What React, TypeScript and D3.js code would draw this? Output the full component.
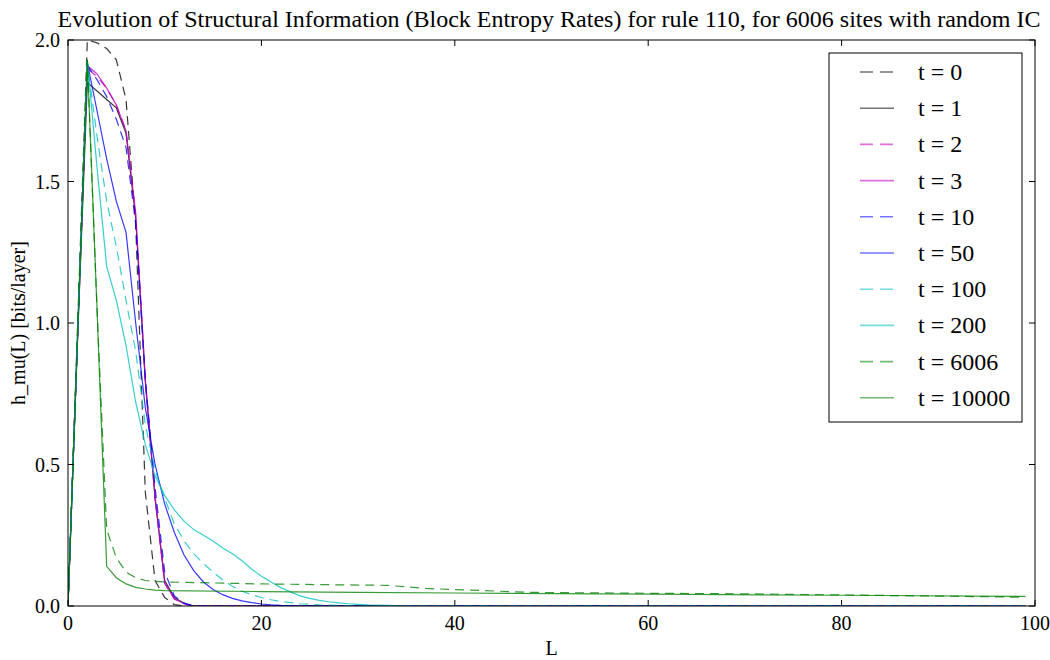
import React from 'react';
import * as d3 from 'd3';

const TITLE = 'Evolution of Structural Information (Block Entropy Rates) for rule 110, for 6006 sites with random IC';
const X_LABEL = 'L';
const Y_LABEL = 'h_mu(L) [bits/layer]';
const X_TICKS = [0, 20, 40, 60, 80, 100];
const Y_TICKS = [0, 0.5, 1.0, 1.5, 2.0];

const SERIES_LABELS = ['t = 0', 't = 1', 't = 2', 't = 3', 't = 10', 't = 50', 't = 100', 't = 200', 't = 6006', 't = 10000'];
const SERIES_COLORS = ['#000000', '#000000', '#bf00bf', '#bf00bf', '#0000ff', '#0000ff', '#00bfbf', '#00bfbf', '#008000', '#008000'];
const SERIES_DASHED = [true, false, true, false, true, false, true, false, true, false];

// values at L = 0, 1, 2, ...
const H_T0 = [0, 1.0, 2.0, 1.99, 1.97, 1.93, 1.79, 1.35, 0.40, 0.09, 0.03, 0.005, 0];
const H_T1 = [0, 0.95, 1.85, 1.82, 1.79, 1.76, 1.67, 1.37, 0.79, 0.38, 0.09, 0.03, 0.01, 0];
const H_T2 = [0, 0.96, 1.90, 1.87, 1.83, 1.77, 1.68, 1.38, 0.80, 0.38, 0.08, 0.025, 0.008, 0];
const H_T3 = [0, 0.96, 1.91, 1.88, 1.83, 1.77, 1.68, 1.39, 0.80, 0.39, 0.08, 0.025, 0.008, 0];
const H_T10 = [0, 0.96, 1.91, 1.86, 1.80, 1.72, 1.62, 1.35, 0.80, 0.42, 0.12, 0.035, 0.01, 0];
const H_T50 = [0, 0.97, 1.92, 1.75, 1.58, 1.43, 1.32, 1.0, 0.70, 0.50, 0.36, 0.26, 0.18, 0.125, 0.085, 0.058, 0.04, 0.027, 0.018, 0.012, 0.007, 0.004, 0.002, 0.001, 0];
const H_T100 = [0, 0.97, 1.92, 1.66, 1.43, 1.27, 1.08, 0.90, 0.64, 0.48, 0.38, 0.29, 0.23, 0.185, 0.15, 0.12, 0.092, 0.07, 0.052, 0.04, 0.03, 0.022, 0.016, 0.012, 0.008, 0.006, 0.004, 0.003, 0.002, 0.001, 0];
const H_T200 = [0, 0.97, 1.93, 1.55, 1.20, 1.08, 0.92, 0.72, 0.57, 0.46, 0.39, 0.34, 0.30, 0.27, 0.25, 0.23, 0.205, 0.185, 0.16, 0.13, 0.105, 0.085, 0.065, 0.05, 0.036, 0.027, 0.02, 0.015, 0.011, 0.008, 0.006, 0.004, 0.003, 0.002, 0.001, 0];
const H_T6006 = [0, 0.97, 1.93, 1.05, 0.27, 0.17, 0.12, 0.10, 0.09, 0.087, 0.085];
const H_T10000 = [0, 0.97, 1.93, 1.05, 0.14, 0.10, 0.078, 0.066, 0.06, 0.056, 0.054];

// sparse [L, value] points for the long tails
const TAIL_ZERO: [number, number][] = [[99, 0]];
const TAIL_T6006: [number, number][] = [[20, 0.078], [30, 0.074], [33, 0.073], [37, 0.062], [40, 0.058], [48, 0.048], [60, 0.045], [70, 0.043], [80, 0.039], [90, 0.035], [99, 0.031]];
const TAIL_T10000: [number, number][] = [[20, 0.051], [30, 0.048], [40, 0.046], [60, 0.042], [80, 0.038], [99, 0.034]];

const SERIES_VALUES = [H_T0, H_T1, H_T2, H_T3, H_T10, H_T50, H_T100, H_T200, H_T6006, H_T10000];
const SERIES_TAILS = [TAIL_ZERO, TAIL_ZERO, TAIL_ZERO, TAIL_ZERO, TAIL_ZERO, TAIL_ZERO, TAIL_ZERO, TAIL_ZERO, TAIL_T6006, TAIL_T10000];

const W = 1050;
const H = 660;
const LEFT = 68;
const RIGHT = 1035;
const TOP = 40;
const BOTTOM = 606;
const FONT = '"Liberation Serif", "DejaVu Serif", serif';

export default function App() {
  const x = d3.scaleLinear().domain([0, 100]).range([LEFT, RIGHT]);
  const y = d3.scaleLinear().domain([0, 2]).range([BOTTOM, TOP]);
  const line = d3.line<[number, number]>().x(d => x(d[0])).y(d => y(d[1]));

  const series = SERIES_VALUES.map((vals, i) => {
    const pts: [number, number][] = vals.map((v, k) => [k, v] as [number, number]);
    return pts.concat(SERIES_TAILS[i]);
  });

  const legX = 829, legY = 53, legW = 193, legH = 369;
  const rowGap = 36.2;

  return (
    <svg width={W} height={H} style={{ position: 'absolute', left: 0, top: 0, background: '#fff' }} fontFamily={FONT}>
      <rect x={0} y={0} width={W} height={H} fill="#fff" />
      <text x={549} y={27} textAnchor="middle" fontSize={24} fill="#000">{TITLE}</text>
      <defs>
        <clipPath id="plotclip">
          <rect x={LEFT} y={TOP} width={RIGHT - LEFT} height={BOTTOM - TOP} />
        </clipPath>
      </defs>
      <g clipPath="url(#plotclip)">
        {series.map((pts, i) => (
          <path key={i} d={line(pts) || ''} fill="none" stroke={SERIES_COLORS[i]} strokeOpacity={0.78}
            strokeWidth={1.2} strokeDasharray={SERIES_DASHED[i] ? '9,6' : undefined} />
        ))}
      </g>
      <rect x={LEFT} y={TOP} width={RIGHT - LEFT} height={BOTTOM - TOP} fill="none" stroke="#000" strokeWidth={1} />
      {X_TICKS.map(t => (
        <g key={'x' + t}>
          <line x1={x(t)} x2={x(t)} y1={BOTTOM} y2={BOTTOM - 6} stroke="#000" />
          <line x1={x(t)} x2={x(t)} y1={TOP} y2={TOP + 6} stroke="#000" />
          <text x={x(t)} y={630} textAnchor="middle" fontSize={20}>{t}</text>
        </g>
      ))}
      {Y_TICKS.map(t => (
        <g key={'y' + t}>
          <line x1={LEFT} x2={LEFT + 6} y1={y(t)} y2={y(t)} stroke="#000" />
          <line x1={RIGHT} x2={RIGHT - 6} y1={y(t)} y2={y(t)} stroke="#000" />
          <text x={60} y={y(t) + 7} textAnchor="end" fontSize={20}>{t.toFixed(1)}</text>
        </g>
      ))}
      <text x={(LEFT + RIGHT) / 2} y={655} textAnchor="middle" fontSize={20}>{X_LABEL}</text>
      <text transform={`translate(25,${(TOP + BOTTOM) / 2}) rotate(-90)`} textAnchor="middle" fontSize={20}>{Y_LABEL}</text>
      <rect x={legX} y={legY} width={legW} height={legH} fill="#fff" stroke="#000" strokeWidth={1} />
      {SERIES_LABELS.map((lab, i) => {
        const cy = 72 + i * rowGap;
        return (
          <g key={lab}>
            <line x1={860} x2={894} y1={cy} y2={cy} stroke={SERIES_COLORS[i]} strokeOpacity={0.55} strokeWidth={1.6}
              strokeDasharray={SERIES_DASHED[i] ? '13,7' : undefined} />
            <text x={918} y={cy + 8} fontSize={24}>{lab}</text>
          </g>
        );
      })}
    </svg>
  );
}
